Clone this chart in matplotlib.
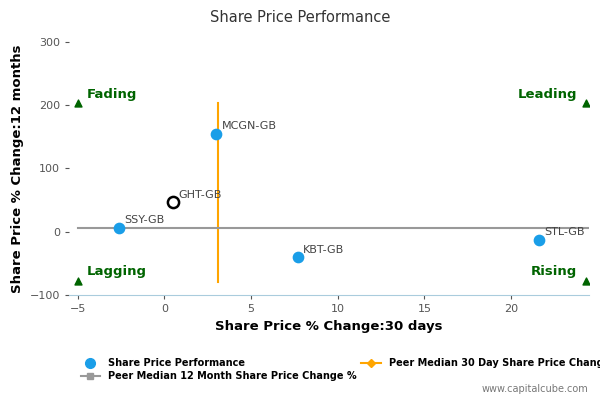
import matplotlib.pyplot as plt
from matplotlib.lines import Line2D

names = ["SSY-GB", "MCGN-GB", "KBT-GB", "STL-GB"]
x_30d = [-2.6, 3.0, 7.7, 21.6]
y_12m = [6, 155, -40, -13]
focus_name = "GHT-GB"
focus_x, focus_y = 0.5, 47
peer_30d = 3.1
peer_30d_span = [-80, 203]
peer_12m = 6
peer_12m_span = [-5, 24.5]
corner_labels = ["Fading", "Leading", "Lagging", "Rising"]
corner_x = [-5, 24.3, -5, 24.3]
corner_y = [203, 203, -78, -78]

fig = plt.figure(figsize=(6, 4), dpi=100)
ax = fig.add_axes([0.115, 0.2625, 0.867, 0.633])

ax.plot([peer_30d, peer_30d], peer_30d_span, color="#ffa500", lw=1.5, zorder=2)
ax.plot(peer_12m_span, [peer_12m, peer_12m], color="#999999", lw=1.5, zorder=2)
ax.scatter(x_30d, y_12m, s=55, color="#1a9ee8", zorder=3)
for n, x, y in zip(names, x_30d, y_12m):
    ax.text(x + 0.3, y + 7, n, fontsize=8, color="#444444")
ax.scatter([focus_x], [focus_y], s=65, facecolor="white", edgecolor="black", lw=1.8, zorder=4)
ax.text(focus_x + 0.3, focus_y + 7, focus_name, fontsize=8, color="#444444")

ax.scatter(corner_x, corner_y, marker="^", s=25, color="#006400", zorder=3)
ax.text(-4.5, 212, corner_labels[0], color="#006400", fontsize=9.5, fontweight="bold")
ax.text(23.8, 212, corner_labels[1], color="#006400", fontsize=9.5, fontweight="bold", ha="right")
ax.text(-4.5, -69, corner_labels[2], color="#006400", fontsize=9.5, fontweight="bold")
ax.text(23.8, -69, corner_labels[3], color="#006400", fontsize=9.5, fontweight="bold", ha="right")

ax.set_xlim(-5.5, 24.5)
ax.set_ylim(-100, 300)
ax.set_xticks([-5, 0, 5, 10, 15, 20])
ax.set_yticks([-100, 0, 100, 200, 300])
ax.tick_params(labelsize=8, colors="#555555", length=3)
for s in ["top", "right", "left"]:
    ax.spines[s].set_visible(False)
ax.spines["bottom"].set_color("#aaccdd")
ax.set_xlabel("Share Price % Change:30 days", fontsize=9.5, fontweight="bold")
ax.set_ylabel("Share Price % Change:12 months", fontsize=9.5, fontweight="bold")
fig.text(0.5, 0.955, "Share Price Performance", ha="center", va="center", fontsize=10.5, color="#333333")

handles = [
    Line2D([], [], marker="o", ls="none", color="#1a9ee8", markersize=7),
    Line2D([], [], marker="s", color="#999999", markersize=5),
    Line2D([], [], marker="D", color="#ffa500", markersize=4),
]
labels = ["Share Price Performance", "Peer Median 12 Month Share Price Change %",
          "Peer Median 30 Day Share Price Change %"]
fig.legend(handles, labels, loc="lower left", bbox_to_anchor=(0.12, 0.025), ncol=2,
           fontsize=7, frameon=False, columnspacing=0.5, handlelength=2,
           labelspacing=0.3, prop={"weight": "bold", "size": 7})
fig.text(0.98, 0.02, "www.capitalcube.com", ha="right", fontsize=7, color="#777777")

fig.savefig("out.png")
